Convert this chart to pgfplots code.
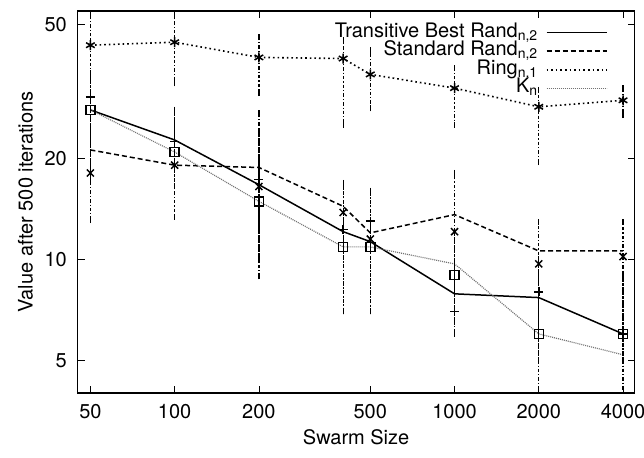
\documentclass[border=0pt]{standalone}
\usepackage{pgfplots}
\pgfplotsset{compat=1.18}
\usepackage{pgfplotstable}
\usepackage{fontspec}
\setmainfont{TeX Gyre Heros}

% x mean med lo hi
\pgfplotstableread{
x mean med lo hi
50 27.9 30.5 17.3 35.9
100 22.7 22.5 18.5 27.9
200 16.7 17.3 12.5 24.0
400 12.1 12.3 7.0 16.5
500 11.3 13.0 7.0 16.0
1000 7.9 7.0 6.0 9.9
2000 7.7 8.0 5.0 8.9
4000 6.0 6.0 3.5 8.0
}\tb
\pgfplotstableread{
x mean med lo hi
50 21.2 18.1 13.1 30.5
100 19.1 19.1 13.4 27.9
200 18.8 16.5 8.9 27.3
400 14.4 13.8 7.0 16.9
500 12.0 11.5 7.0 15.9
1000 13.6 12.1 8.0 18.1
2000 10.6 9.7 6.0 12.9
4000 10.6 10.2 5.0 12.9
}\st
\pgfplotstableread{
x mean med lo hi
50 43.5 43.5 34.8 55
100 44.4 44.4 33.5 53.5
200 40.0 40.0 31.3 45.9
400 39.7 39.7 25.2 45.0
500 35.6 35.6 28.2 42.0
1000 32.4 32.4 25.2 37.1
2000 28.5 28.5 19.5 32.0
4000 29.8 29.8 26.9 32.4
}\ring
\pgfplotstableread{
x mean med lo hi
50 27.9 27.9 17.0 35.0
100 20.9 20.9 16.5 25.0
200 14.9 14.9 10.0 20.0
400 10.9 10.9 7.0 16.5
500 10.9 10.9 7.0 16.0
1000 9.7 9.0 6.5 12.0
2000 6.0 6.0 3.5 10.0
4000 5.2 6.0 3.5 9.0
}\kn

\pgfplotsset{
  errstyle/.style={
    error bars/.cd, y dir=both, y explicit,
    error bar style={black, line width=1.2bp, dash pattern=on 3.5bp off 2bp on 1.2bp off 2bp},
    error mark options={black, mark size=3bp, line width=1.2bp, solid},
  },
}

\begin{document}
\fontsize{20bp}{24bp}\selectfont
\begin{tikzpicture}
\useasboundingbox (0,0) rectangle (644bp,458bp);
\begin{axis}[
  at={(77.6bp,65bp)}, anchor=south west,
  scale only axis, width=557bp, height=382bp,
  xmode=log, ymode=log,
  xmin=45, xmax=4400, ymin=4, ymax=55,
  xtick={50,100,200,500,1000,2000,4000},
  xticklabels={50,100,200,500,1000,2000,4000},
  ytick={5,10,20,50},
  yticklabels={5,10,20,50},
  minor xtick={}, minor ytick={},
  tick align=inside, tick pos=both,
  major tick length=7bp,
  tick style={black, line width=0.8bp},
  axis line style={black, line width=1.2bp},
  xticklabel style={yshift=-4bp},
  yticklabel style={xshift=-4bp},
  xlabel={Swarm Size},
  ylabel={Value after 500 iterations},
  xlabel style={yshift=2bp},
  ylabel style={yshift=-2bp},
  legend style={at={(0.951,0.968)}, anchor=north east, draw=none, fill=none,
    inner sep=0pt, outer sep=0pt,
    nodes={inner sep=0pt, text height=14bp, text depth=5bp},
    row sep=-0.5bp, column sep=8bp},
  legend cell align=right,
  legend plot pos=right,
  legend image code/.code={\draw[#1] (0bp,0bp) -- (60bp,0bp);},
]
\addplot[black, line width=1.5bp] table[x=x, y=mean]{\tb};
\addlegendentry{Transitive Best Rand\textsubscript{n,2}}
\addplot[black, line width=1.5bp, dash pattern=on 5bp off 3bp] table[x=x, y=mean]{\st};
\addlegendentry{Standard Rand\textsubscript{n,2}}
\addplot[black, line width=1.6bp, dash pattern=on 1.6bp off 3bp] table[x=x, y=mean]{\ring};
\addlegendentry{Ring\textsubscript{n,1}}
\addplot[black!55, line width=1.2bp, dash pattern=on 1bp off 1bp] table[x=x, y=mean]{\kn};
\addlegendentry{K\textsubscript{n}}

\addplot[forget plot, black, only marks, mark=+, mark size=4.5bp, mark options={line width=1.5bp}, errstyle]
  table[x=x, y=med, y error plus expr=\thisrow{hi}-\thisrow{med}, y error minus expr=\thisrow{med}-\thisrow{lo}]{\tb};
\addplot[forget plot, black, only marks, mark=x, mark size=5bp, mark options={line width=1.5bp}, errstyle]
  table[x=x, y=med, y error plus expr=\thisrow{hi}-\thisrow{med}, y error minus expr=\thisrow{med}-\thisrow{lo}]{\st};
\addplot[forget plot, black, only marks, mark=asterisk, mark size=5bp, mark options={line width=1.5bp}, errstyle]
  table[x=x, y=med, y error plus expr=\thisrow{hi}-\thisrow{med}, y error minus expr=\thisrow{med}-\thisrow{lo}]{\ring};
\addplot[forget plot, black, only marks, mark=square, mark size=4.5bp, mark options={line width=1.5bp}, errstyle]
  table[x=x, y=med, y error plus expr=\thisrow{hi}-\thisrow{med}, y error minus expr=\thisrow{med}-\thisrow{lo}]{\kn};
\end{axis}
\end{tikzpicture}
\end{document}
